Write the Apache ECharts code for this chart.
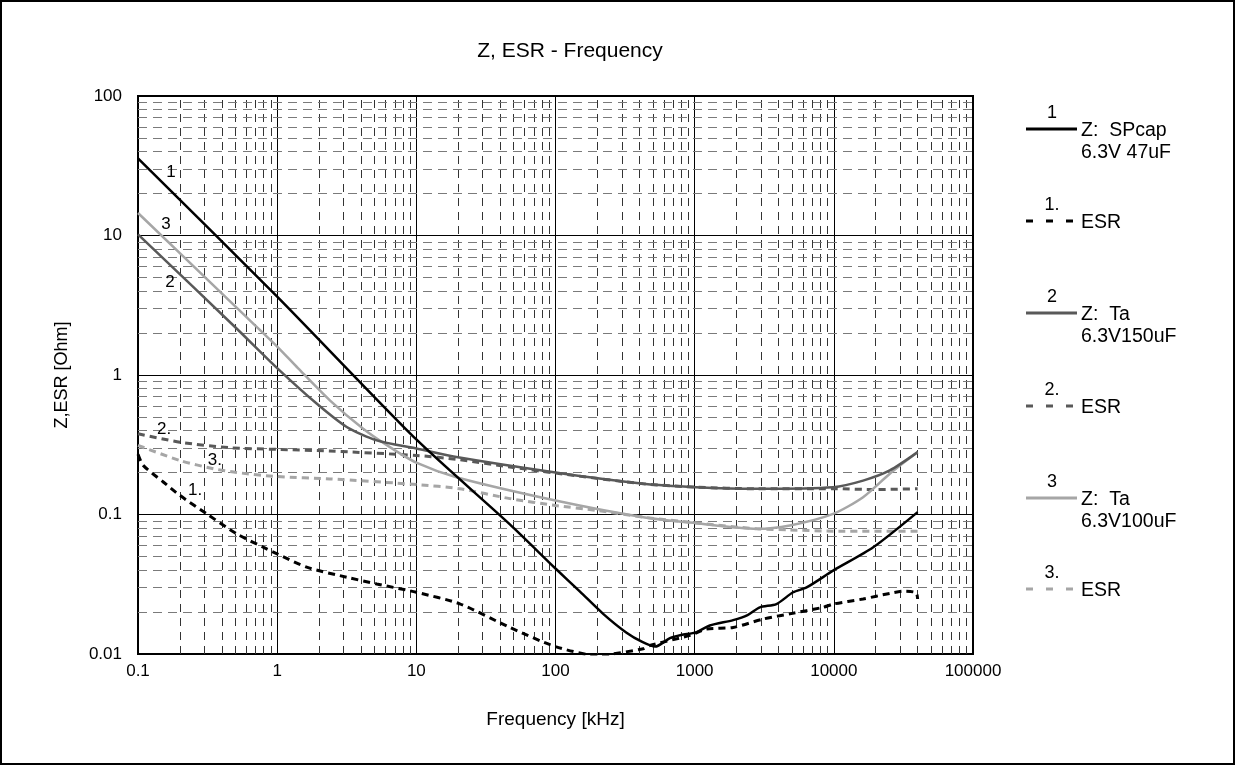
<!DOCTYPE html>
<html>
<head>
<meta charset="utf-8">
<script src="https://cdn.jsdelivr.net/npm/echarts@6/dist/echarts.min.js"></script>
<style>
html,body{margin:0;padding:0;background:#fff;}
#c{width:1236px;height:766px;}
</style>
</head>
<body>
<div id="c"></div>
<script>
// ---- data (frequency in kHz, impedance in Ohm) ----
const freqZ1 = [0.1, 1, 10, 47, 100, 150, 220, 324, 420, 520, 664, 800, 1023, 1285, 1892, 2400, 2940, 3870, 5100, 6370, 9880, 19190, 40000];
const zSPcap = [35.7, 3.65, 0.345, 0.085, 0.041, 0.028, 0.0194, 0.0142, 0.0122, 0.0113, 0.0130, 0.0137, 0.0143, 0.016, 0.0175, 0.019, 0.0216, 0.0228, 0.0277, 0.030, 0.0396, 0.0582, 0.104];

const freqE1 = [0.1, 0.109, 0.152, 0.2, 0.312, 0.512, 0.84, 1, 1.63, 3.16, 5.19, 10, 20.5, 47, 100, 208, 240, 427, 476, 925, 1216, 1892, 3100, 4830, 8380, 9880, 16220, 25240, 31500, 39000, 40000];
const esrSPcap = [0.27, 0.225, 0.171, 0.137, 0.101, 0.0727, 0.0567, 0.0522, 0.0419, 0.0355, 0.0318, 0.0277, 0.0229, 0.0155, 0.0113, 0.0097, 0.0099, 0.0109, 0.0115, 0.0136, 0.0151, 0.0155, 0.0178, 0.0194, 0.0216, 0.0228, 0.0248, 0.0272, 0.0282, 0.0275, 0.0248];

const freqZ2 = [0.1, 0.5, 1, 1.92, 3.16, 5.19, 10, 19.4, 100, 427, 1023, 2786, 9880, 16220, 25240, 40000];
const zTa150 = [10.2, 2.2, 1.12, 0.624, 0.424, 0.34, 0.297, 0.258, 0.2, 0.166, 0.157, 0.153, 0.157, 0.175, 0.207, 0.28];

const freqE2 = [0.1, 0.2, 0.458, 1, 2.39, 10, 20.5, 47, 100, 427, 1023, 2786, 9880, 20000, 40000];
const esrTa150 = [0.379, 0.33, 0.301, 0.293, 0.285, 0.265, 0.247, 0.219, 0.198, 0.166, 0.157, 0.153, 0.153, 0.151, 0.153];

const freqZ3 = [0.1, 0.5, 1, 1.41, 2.39, 4.15, 6.46, 10, 19.4, 100, 427, 1023, 2786, 4830, 9880, 16220, 25240, 40000];
const zTa100 = [14.5, 3.1, 1.6, 1.12, 0.658, 0.412, 0.304, 0.235, 0.185, 0.126, 0.0957, 0.0866, 0.0789, 0.0834, 0.101, 0.133, 0.196, 0.28];

const freqE3 = [0.1, 0.2, 0.348, 0.512, 1, 2.39, 10, 20.5, 47, 100, 197, 427, 1023, 2786, 4830, 9880, 40000];
const esrTa100 = [0.313, 0.244, 0.213, 0.2, 0.187, 0.18, 0.164, 0.153, 0.13, 0.116, 0.107, 0.0957, 0.087, 0.079, 0.0776, 0.0759, 0.0759];

const xDecades = [0.1, 1, 10, 100, 1000, 10000];
const yDecades = [0.01, 0.1, 1, 10];
const minorSteps = [2, 3, 4, 5, 6, 7, 8, 9];

const legendItems = [
  {num: '1', lines: ['Z:  SPcap', '6.3V 47uF'], color: '#000000', dashed: false},
  {num: '1.', lines: ['ESR'], color: '#000000', dashed: true},
  {num: '2', lines: ['Z:  Ta', '6.3V150uF'], color: '#595959', dashed: false},
  {num: '2.', lines: ['ESR'], color: '#595959', dashed: true},
  {num: '3', lines: ['Z:  Ta', '6.3V100uF'], color: '#a6a6a6', dashed: false},
  {num: '3.', lines: ['ESR'], color: '#a6a6a6', dashed: true}
];

// ---- build ----
const FONT = '"Liberation Sans", Arial, sans-serif';
function zip(xs, ys){ return xs.map((x,i)=>[x, ys[i]]); }
function fmt(v){ return String(Number(Number(v).toPrecision(6))); }

const minorLines = [];
xDecades.forEach(d => minorSteps.forEach(k => minorLines.push({xAxis: d*k, lineStyle:{color:'#333', type:[8,6], width:1}})));
yDecades.forEach(d => minorSteps.forEach(k => minorLines.push({yAxis: d*k, lineStyle:{color:'#7a7a7a', type:[9,6], width:1}})));

function lbl(coord, text){
  return {coord: coord, value: text, symbol:'circle', symbolSize: 1,
    itemStyle:{color:'rgba(0,0,0,0)'},
    label:{show:true, position:'inside', formatter: text, color:'#000', fontSize:17, fontFamily:FONT}};
}

function lineSeries(name, data, color, dashed, labels){
  return {
    name: name, type:'line', data: data, showSymbol:false, symbol:'none', smooth:0.25,
    lineStyle:{color: color, width: dashed ? 3 : 2.5, type: dashed ? [7,5] : 'solid'},
    z: 5, animation:false,
    markPoint: labels ? {silent:true, animation:false, data: labels} : undefined
  };
}

const series = [
  {type:'line', data:[], z:1, animation:false, silent:true,
   markLine:{silent:true, animation:false, symbol:['none','none'], label:{show:false}, z:1, data: minorLines}},
  lineSeries('ESR 3', zip(freqE3, esrTa100), '#a6a6a6', true, [lbl([0.357, 0.244], '3.')]),
  lineSeries('ESR 2', zip(freqE2, esrTa150), '#595959', true, [lbl([0.154, 0.407], '2.')]),
  lineSeries('Z 3', zip(freqZ3, zTa100), '#a6a6a6', false, [lbl([0.159, 12.1], '3')]),
  lineSeries('Z 2', zip(freqZ2, zTa150), '#595959', false, [lbl([0.170, 4.63], '2')]),
  lineSeries('ESR 1', zip(freqE1, esrSPcap), '#000000', true, [lbl([0.257, 0.149], '1.')]),
  lineSeries('Z 1', zip(freqZ1, zSPcap), '#000000', false, [lbl([0.1726, 28.5], '1')])
];

// legend graphics
const legendY = [129, 221, 313, 406, 498, 589];
const graphic = [
  {type:'rect', shape:{x:1, y:1, width:1233, height:763}, style:{fill:'none', stroke:'#000', lineWidth:2}, z:100}
];
legendItems.forEach((it, i) => {
  const y = legendY[i];
  graphic.push({type:'line', shape:{x1:1026, y1:y, x2:1077, y2:y},
    style:{stroke: it.color, lineWidth:3, lineDash: it.dashed ? [7,13] : null}});
  graphic.push({type:'text', x:1052, y:y-16, style:{text: it.num, font:'18px '+FONT, fill:'#000', textAlign:'center', textVerticalAlign:'middle'}});
  it.lines.forEach((t, j) => {
    graphic.push({type:'text', x:1081, y:y+2+j*22, style:{text:t, font:'19.5px '+FONT, fill:'#000', textAlign:'left', textVerticalAlign:'middle'}});
  });
});

const chart = echarts.init(document.getElementById('c'), null, {renderer:'canvas'});
chart.setOption({
  backgroundColor:'#fff',
  animation:false,
  title:{text:'Z, ESR - Frequency', left:565, top:36, textAlign:'center',
    textStyle:{fontFamily:FONT, fontSize:21, fontWeight:'normal', color:'#000'}},
  grid:{left:138, right:263, top:96, bottom:112, show:true, borderColor:'#000', borderWidth:2, backgroundColor:'rgba(0,0,0,0)'},
  xAxis:{type:'log', logBase:10, min:0.1, max:100000, splitNumber:6,
    name:'Frequency [kHz]', nameLocation:'middle', nameGap:56,
    nameTextStyle:{fontFamily:FONT, fontSize:19, color:'#000'},
    axisLine:{show:true, lineStyle:{color:'#000', width:2}},
    axisTick:{show:false},
    axisLabel:{color:'#000', fontFamily:FONT, fontSize:17, margin:9, formatter: fmt},
    splitLine:{show:true, lineStyle:{color:'#000', width:1}},
    minorTick:{show:false}, minorSplitLine:{show:false}},
  yAxis:{type:'log', logBase:10, min:0.01, max:100, splitNumber:4,
    name:'Z,ESR [Ohm]', nameLocation:'middle', nameGap:67,
    nameTextStyle:{fontFamily:FONT, fontSize:18, color:'#000'},
    axisLine:{show:true, lineStyle:{color:'#000', width:2}},
    axisTick:{show:false},
    axisLabel:{color:'#000', fontFamily:FONT, fontSize:17, margin:16, formatter: fmt},
    splitLine:{show:true, lineStyle:{color:'#000', width:1}},
    minorTick:{show:false}, minorSplitLine:{show:false}},
  series: series,
  graphic: graphic
});
</script>
</body>
</html>
